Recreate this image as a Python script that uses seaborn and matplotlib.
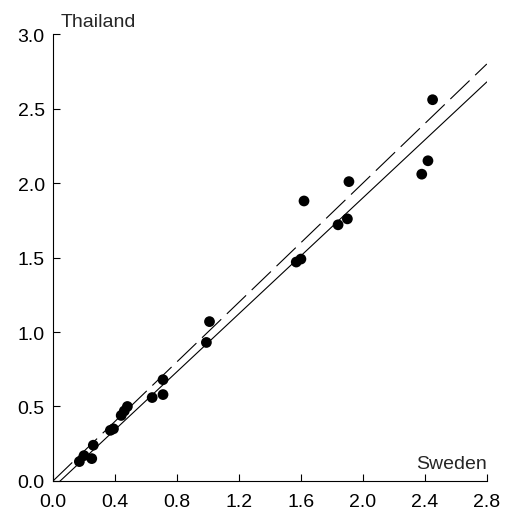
import numpy as np
import pandas as pd
import matplotlib
matplotlib.use("Agg")
import matplotlib.pyplot as plt
import seaborn as sns

sns.set_style("ticks")
plt.rcParams["font.family"] = ["Liberation Sans", "DejaVu Sans"]

# values
sweden = [2.45, 2.42, 2.38, 1.91, 1.90, 1.84, 1.62, 1.60, 1.57, 1.01, 0.99,
          0.71, 0.71, 0.64, 0.48, 0.46, 0.44, 0.39, 0.37, 0.26, 0.25, 0.20, 0.17]
thailand = [2.56, 2.15, 2.06, 2.01, 1.76, 1.72, 1.88, 1.49, 1.47, 1.07, 0.93,
            0.68, 0.58, 0.56, 0.50, 0.47, 0.44, 0.35, 0.34, 0.24, 0.15, 0.17, 0.13]
fit_intercept = -0.045
fit_slope = 0.973
x_ticks = [0.0, 0.4, 0.8, 1.2, 1.6, 2.0, 2.4, 2.8]
y_ticks = [0.0, 0.5, 1.0, 1.5, 2.0, 2.5, 3.0]

df = pd.DataFrame({"Sweden": sweden, "Thailand": thailand})

fig = plt.figure(figsize=(5.05, 5.10), dpi=100)
ax = fig.add_axes([0.105, 0.055, 0.859, 0.876])

xl = np.array([0.0, 2.8])
ax.plot(xl, xl, color="black", lw=0.8, dashes=(24, 7))
ax.plot(xl, fit_intercept + fit_slope * xl, color="black", lw=0.8)
sns.scatterplot(data=df, x="Sweden", y="Thailand", color="black", s=60,
                edgecolor="none", ax=ax, zorder=3)

ax.set_xlim(0, 2.8)
ax.set_ylim(0, 3.0)
ax.set_xticks(x_ticks)
ax.set_yticks(y_ticks)
ax.set_xticklabels([f"{v:.1f}" for v in x_ticks])
ax.set_yticklabels([f"{v:.1f}" for v in y_ticks])
ax.tick_params(direction="in", length=5, width=0.8, labelsize=14, colors="black")
ax.tick_params(axis="x", pad=9)
ax.tick_params(axis="y", pad=6)
ax.set_xlabel("")
ax.set_ylabel("")
sns.despine(ax=ax)
for s in ["left", "bottom"]:
    ax.spines[s].set_linewidth(0.8)
    ax.spines[s].set_color("black")

ax.text(0.05, 3.03, "Thailand", fontsize=14, ha="left", va="bottom")
ax.text(2.8, 0.06, "Sweden", fontsize=14, ha="right", va="bottom")

fig.savefig("out.png", dpi=100)
